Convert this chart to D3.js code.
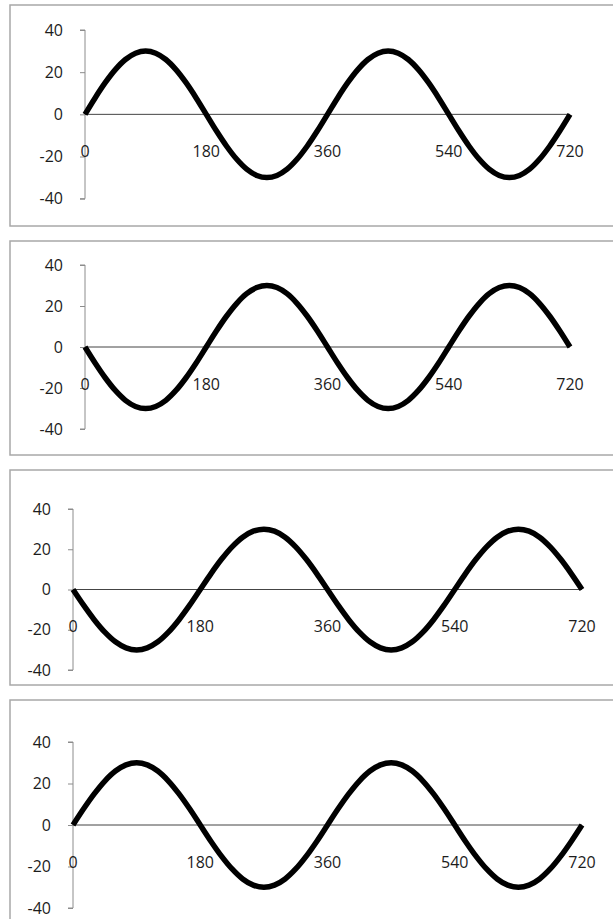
<!DOCTYPE html>
<html lang="en">
	<head>
		<meta charset="utf-8">
		<title>Sine waves</title>
		<script type="text/javascript" src="https://cdn.jsdelivr.net/npm/d3@7"></script>
		<style type="text/css">
			body { margin: 0; background: #fff; }
			.tick-label { font-family: "Open Sans", sans-serif; font-size: 16px; fill: #1c1c1c; }
		</style>
	</head>
	<body>
		<script type="text/javascript">

			//Canvas size
			var w = 613;
			var h = 919;

			//Angles along the x axis (degrees)
			var angles = [0, 15, 30, 45, 60, 75, 90, 105, 120, 135, 150, 165, 180,
				195, 210, 225, 240, 255, 270, 285, 300, 315, 330, 345, 360,
				375, 390, 405, 420, 435, 450, 465, 480, 495, 510, 525, 540,
				555, 570, 585, 600, 615, 630, 645, 660, 675, 690, 705, 720];

			//Wave starting upwards (charts 1 and 4)
			var waveUp = [0, 7.8, 15, 21.2, 26, 29, 30, 29, 26, 21.2, 15, 7.8, 0,
				-7.8, -15, -21.2, -26, -29, -30, -29, -26, -21.2, -15, -7.8, 0,
				7.8, 15, 21.2, 26, 29, 30, 29, 26, 21.2, 15, 7.8, 0,
				-7.8, -15, -21.2, -26, -29, -30, -29, -26, -21.2, -15, -7.8, 0];

			//Wave starting downwards (charts 2 and 3)
			var waveDown = [0, -7.8, -15, -21.2, -26, -29, -30, -29, -26, -21.2, -15, -7.8, 0,
				7.8, 15, 21.2, 26, 29, 30, 29, 26, 21.2, 15, 7.8, 0,
				-7.8, -15, -21.2, -26, -29, -30, -29, -26, -21.2, -15, -7.8, 0,
				7.8, 15, 21.2, 26, 29, 30, 29, 26, 21.2, 15, 7.8, 0];

			//Axis ticks
			var xTicks = [0, 180, 360, 540, 720];
			var yTicks = [-40, -20, 0, 20, 40];

			//Layout of the four stacked charts
			var panels = [
				{ series: waveUp,   boxTop: 5,   boxBottom: 226, x0: 85, x1: 570, yTop: 30,  yBottom: 198.7 },
				{ series: waveDown, boxTop: 241, boxBottom: 455, x0: 85, x1: 570, yTop: 265, yBottom: 429 },
				{ series: waveDown, boxTop: 470, boxBottom: 685, x0: 73, x1: 582, yTop: 509, yBottom: 670 },
				{ series: waveUp,   boxTop: 700, boxBottom: 940, x0: 73, x1: 582, yTop: 742, yBottom: 908 }
			];

			var svg = d3.select("body")
						.append("svg")
						.attr("width", w)
						.attr("height", h);

			panels.forEach(function(p) {

				var g = svg.append("g");

				//Chart border (right edge runs off the page)
				g.append("rect")
					.attr("x", 10)
					.attr("y", p.boxTop)
					.attr("width", 640)
					.attr("height", p.boxBottom - p.boxTop)
					.attr("fill", "none")
					.attr("stroke", "#a8a8a8")
					.attr("stroke-width", 1.5);

				var xScale = d3.scaleLinear()
							.domain([0, 720])
							.range([p.x0, p.x1]);

				var yScale = d3.scaleLinear()
							.domain([-40, 40])
							.range([p.yBottom, p.yTop]);

				//Y axis (plain hyphen for negatives, like the original)
				var yAxis = d3.axisLeft(yScale)
							.tickValues(yTicks)
							.tickSize(5)
							.tickPadding(17)
							.tickFormat(function(d) { return String(d); });

				var ya = g.append("g")
					.attr("transform", "translate(" + p.x0 + ",0)")
					.call(yAxis);
				ya.select(".domain").attr("stroke", "#8c8c8c")
					.attr("d", "M-5," + yScale(40) + "H0V" + yScale(-40) + "H-5");
				ya.selectAll(".tick line").attr("stroke", "#8c8c8c");
				ya.selectAll(".tick text")
					.attr("class", "tick-label")
					.attr("fill", null);
				ya.attr("font-size", null).attr("font-family", null);

				//Zero line
				g.append("line")
					.attr("x1", xScale(0))
					.attr("x2", xScale(720))
					.attr("y1", yScale(0))
					.attr("y2", yScale(0))
					.attr("stroke", "#444")
					.attr("stroke-width", 1);

				//X labels sit below the zero line
				g.selectAll(".xlab")
					.data(xTicks)
					.enter()
					.append("text")
					.attr("class", "tick-label")
					.attr("x", function(d) { return xScale(d); })
					.attr("y", yScale(0) + 37)
					.attr("dy", "0.35em")
					.attr("text-anchor", "middle")
					.text(function(d) { return d; });

				//Wave
				var line = d3.line()
							.x(function(d, i) { return xScale(angles[i]); })
							.y(function(d) { return yScale(d); })
							.curve(d3.curveCatmullRom);

				g.append("path")
					.datum(p.series)
					.attr("d", line)
					.attr("fill", "none")
					.attr("stroke", "#000")
					.attr("stroke-width", 5.5);
			});

		</script>
	</body>
</html>
